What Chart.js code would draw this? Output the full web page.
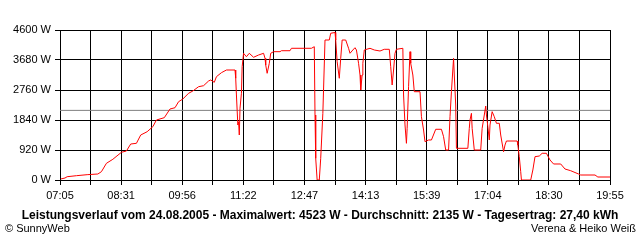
<!DOCTYPE html>
<html>
<head>
<meta charset="utf-8">
<script src="https://cdn.jsdelivr.net/npm/chart.js@4.4.0/dist/chart.umd.min.js"></script>
<style>
  html, body { margin: 0; padding: 0; background: #fff; }
  #powerChart { display: block; }
</style>
</head>
<body>
<canvas id="powerChart" width="640" height="240"></canvas>
<script>
// time of day in minutes since midnight, power in W
const times = [426, 432, 435, 448, 463, 478, 483, 490, 499, 511, 518, 524, 532, 538, 547, 555, 560, 571, 579, 586,
    591, 597, 605, 611, 619, 626, 633, 636, 641, 644, 651, 658, 670, 671, 672, 674, 675, 676, 677, 679,
    680, 682, 686, 690, 696, 703, 710, 712, 713, 715, 718, 720, 724, 733, 735, 747, 749, 777, 781, 782,
    783, 785, 788, 790, 793, 796, 802, 804, 810, 811, 813, 816, 818, 820, 825, 829, 831, 835, 838, 840,
    843, 845, 846, 848, 849, 851, 859, 865, 873, 879, 886, 888, 890, 892, 894, 896, 905, 906, 908, 910,
    911, 913, 915, 916, 919, 921, 929, 931, 934, 936, 941, 945, 951, 959, 962, 965, 969, 971, 973, 976,
    977, 979, 980, 996, 998, 999, 1001, 1002, 1005, 1014, 1016, 1019, 1021, 1022, 1024, 1026, 1027, 1030, 1033, 1036,
    1040, 1042, 1046, 1048, 1050, 1065, 1066, 1068, 1070, 1071, 1084, 1087, 1090, 1096, 1100, 1106, 1111, 1116, 1126, 1132,
    1140, 1151, 1154, 1174, 1178, 1195];
const watts = [31, 61, 101, 132, 163, 184, 255, 512, 635, 850, 889, 1104, 1125, 1380, 1481, 1635, 1840, 1911, 2177, 2217,
    2401, 2484, 2659, 2729, 2861, 2892, 3036, 3067, 2996, 3168, 3291, 3373, 3373, 3119, 2607, 1687, 1788, 1380, 2199, 2659,
    3475, 3886, 3781, 3886, 3763, 3833, 3886, 3732, 3527, 3272, 3579, 3886, 3935, 3935, 3965, 3965, 4039, 4039, 4088, 1993,
    665, 0, 0, 665, 2045, 4293, 4293, 4500, 4523, 4293, 3628, 3119, 3732, 4293, 4293, 4039, 3886, 3987, 4057, 3987,
    3579, 3220, 2760, 3220, 3579, 3987, 4039, 3987, 3956, 4008, 4008, 3475, 2913, 3373, 3886, 4008, 4039, 2607, 1687, 1125,
    1585, 2861, 3935, 3579, 3220, 2708, 2708, 1941, 1533, 1175, 1227, 1227, 1555, 1555, 1328, 920, 920, 1941, 2708, 3732,
    3220, 2300, 972, 972, 1585, 1840, 2045, 1585, 920, 920, 1585, 1993, 2269, 1993, 1635, 1227, 1687, 2095, 1941, 1739,
    1739, 1380, 868, 1073, 1196, 1196, 1073, 715, 255, 0, 0, 307, 715, 736, 819, 819, 613, 491, 491, 337,
    285, 184, 153, 153, 92, 92];

const xTickLabels = ['07:05', '08:31', '09:56', '11:22', '12:47', '14:13', '15:39', '17:04', '18:30', '19:55'];
const startMinute = 425;
const endMinute = 1195;
const yMax = 4600;
const yStep = 920;
const avgWatts = 2135;

const titleText = 'Leistungsverlauf vom 24.08.2005 - Maximalwert: 4523 W - Durchschnitt: 2135 W - Tagesertrag: 27,40 kWh';
const footerLeft = '\u00A9 SunnyWeb';
const footerRight = 'Verena & Heiko Wei\u00DF';

Chart.defaults.font.family = '"Liberation Sans", Arial, sans-serif';
Chart.defaults.font.size = 11;
Chart.defaults.color = '#000';

// grid every half label step (18 divisions)
const gridTimes = [];
for (let i = 0; i <= 18; i++) gridTimes.push(startMinute + i * (endMinute - startMinute) / 18);

const bottomText = {
    id: 'bottomText',
    afterDraw(chart) {
        const ctx = chart.ctx;
        ctx.save();
        ctx.fillStyle = '#000';
        ctx.textBaseline = 'middle';
        ctx.font = 'bold 12px "Liberation Sans", Arial, sans-serif';
        ctx.textAlign = 'center';
        ctx.fillText(titleText, 320, 216);
        ctx.font = '11px "Liberation Sans", Arial, sans-serif';
        ctx.textAlign = 'left';
        ctx.fillText(footerLeft, 5, 229);
        ctx.textAlign = 'right';
        ctx.fillText(footerRight, 636, 229);
        ctx.restore();
    }
};

new Chart(document.getElementById('powerChart'), {
    type: 'line',
    data: {
        datasets: [{
            label: 'Leistung',
            data: times.map((t, i) => ({ x: t, y: watts[i] })),
            borderColor: '#ff0000',
            borderWidth: 1,
            pointRadius: 0,
            tension: 0,
            fill: false,
            order: 1
        }, {
            label: 'Durchschnitt',
            data: [{ x: startMinute, y: avgWatts }, { x: endMinute, y: avgWatts }],
            borderColor: '#808080',
            borderWidth: 1,
            pointRadius: 0,
            fill: false,
            order: 2
        }]
    },
    options: {
        responsive: false,
        animation: false,
        devicePixelRatio: 1,
        layout: { padding: { left: 0, right: 30, top: 30, bottom: 0 } },
        plugins: {
            legend: { display: false },
            tooltip: { enabled: false }
        },
        scales: {
            x: {
                type: 'linear',
                min: startMinute,
                max: endMinute,
                afterBuildTicks: (scale) => {
                    scale.ticks = gridTimes.map(v => ({ value: v }));
                },
                afterFit: (scale) => { scale.height = 60; },
                grid: { color: '#000', lineWidth: 1, tickLength: 5, tickColor: '#000' },
                border: { color: '#000' },
                ticks: {
                    autoSkip: false,
                    maxRotation: 0,
                    padding: 4,
                    callback: (value, index) => index % 2 === 0 ? xTickLabels[index / 2] : ''
                }
            },
            y: {
                min: 0,
                max: yMax,
                afterFit: (scale) => { scale.width = 60; },
                grid: { color: '#000', lineWidth: 1, tickLength: 5, tickColor: '#000' },
                border: { color: '#000' },
                ticks: {
                    stepSize: yStep,
                    padding: 4,
                    callback: (value) => value + ' W'
                }
            }
        }
    },
    plugins: [bottomText]
});
</script>
</body>
</html>
